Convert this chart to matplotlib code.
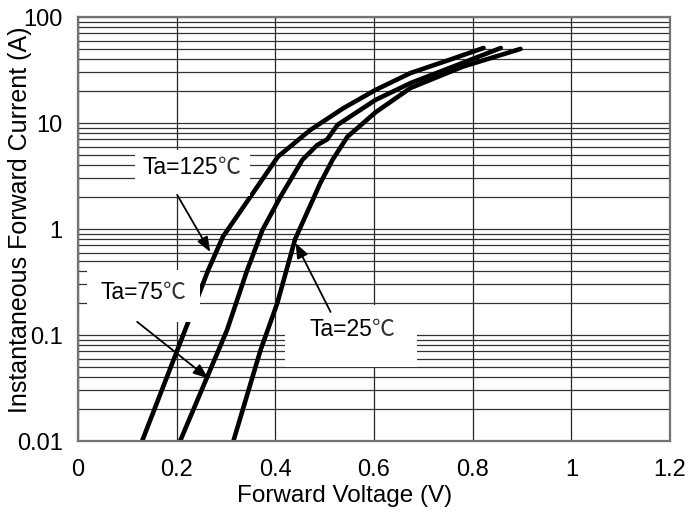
import matplotlib.pyplot as plt
import numpy as np
from matplotlib.patches import Rectangle
from matplotlib.ticker import FixedLocator, LogLocator, NullFormatter

# --- data (V, A) ---
v_125 = [0.130, 0.217, 0.264, 0.294, 0.349, 0.405, 0.471, 0.538, 0.603, 0.674, 0.750, 0.822]
i_125 = [0.010, 0.111, 0.41, 0.85, 2.0, 4.8, 8.6, 13.8, 20.5, 29.6, 39.0, 51.0]

v_75 = [0.207, 0.302, 0.343, 0.374, 0.410, 0.455, 0.485, 0.505, 0.526, 0.603, 0.674, 0.760, 0.857]
i_75 = [0.010, 0.111, 0.41, 0.98, 2.0, 4.5, 6.2, 7.0, 9.6, 16.5, 23.8, 34.0, 51.0]

v_25 = [0.315, 0.370, 0.404, 0.440, 0.457, 0.491, 0.516, 0.546, 0.603, 0.674, 0.780, 0.897]
i_25 = [0.010, 0.072, 0.20, 0.80, 1.2, 2.7, 4.5, 7.4, 12.6, 21.4, 34.0, 50.0]

temps = ["Ta=125", "Ta=75", "Ta=25"]

x_ticks = [0, 0.2, 0.4, 0.6, 0.8, 1.0, 1.2]
x_labels = ["0", "0.2", "0.4", "0.6", "0.8", "1", "1.2"]
y_ticks = [0.01, 0.1, 1, 10, 100]
y_labels = ["0.01", "0.1", "1", "10", "100"]

FONT = ['Liberation Sans', 'Noto Sans CJK JP', 'DejaVu Sans']
plt.rcParams['font.family'] = FONT

fig = plt.figure(figsize=(6.88, 5.2), dpi=100)
ax = fig.add_axes([78/688, 1 - 441/520, 592/688, 424/520])

ax.set_yscale('log')
ax.set_xlim(0, 1.2)
ax.set_ylim(0.01, 100)

# grid
ax.xaxis.set_major_locator(FixedLocator(x_ticks))
ax.set_xticklabels(x_labels)
ax.yaxis.set_major_locator(FixedLocator(y_ticks))
ax.set_yticklabels(y_labels)
ax.yaxis.set_minor_locator(LogLocator(base=10, subs=np.arange(2, 10)))
ax.yaxis.set_minor_formatter(NullFormatter())
ax.grid(True, which='major', axis='x', color='0.15', lw=0.9, zorder=0)
ax.grid(True, which='both', axis='y', color='0.2', lw=0.9, zorder=0)
ax.set_axisbelow(True)

for sp in ax.spines.values():
    sp.set_color('0.45')
    sp.set_linewidth(1.6)

ax.tick_params(which='both', length=0, labelsize=17)
ax.tick_params(axis='y', pad=11)
ax.tick_params(axis='x', pad=13)

# curves
for v, i in [(v_125, i_125), (v_75, i_75), (v_25, i_25)]:
    ax.plot(v, i, color='black', lw=3.3, solid_capstyle='round', zorder=2)

# white label boxes (axes fraction), they hide grid and curves
boxes = [(0.096, 0.578, 0.195, 0.108),
         (0.015, 0.281, 0.191, 0.122),
         (0.350, 0.175, 0.223, 0.146)]
for bx, by, bw, bh in boxes:
    ax.add_patch(Rectangle((bx, by), bw, bh, transform=ax.transAxes,
                           facecolor='white', edgecolor='none', zorder=3))

# labels: "Ta=xx" in Arial-like font, the degree sign from a CJK font (thin, full width)
label_pos = [(0.2365, 0.644), (0.1436, 0.351), (0.4966, 0.262)]
for txt, (lx, ly) in zip(temps, label_pos):
    ax.text(lx, ly, txt, transform=ax.transAxes, ha='right', va='center',
            fontsize=16.5, zorder=5)
    ax.text(lx, ly, "℃", transform=ax.transAxes, ha='left', va='center',
            fontsize=16.5, color='0.2', family=['Noto Sans CJK JP', 'DejaVu Sans'], zorder=5)

arrow_kw = dict(arrowstyle='-|>,head_length=0.9,head_width=0.35', color='black', lw=1.3,
                shrinkA=0, shrinkB=0)
ax.annotate("", xy=(0.268, 0.607), xytext=(0.201, 2.1), arrowprops=arrow_kw, zorder=4)
ax.annotate("", xy=(0.264, 0.039), xytext=(0.120, 0.133), arrowprops=arrow_kw, zorder=4)
ax.annotate("", xy=(0.441, 0.738), xytext=(0.512, 0.165), arrowprops=arrow_kw, zorder=4)

ax.set_xlabel("Forward Voltage (V)", fontsize=17.5)
ax.set_ylabel("Instantaneous Forward Current (A)", fontsize=18)
ax.xaxis.set_label_coords(0.451, -0.104)
ax.yaxis.set_label_coords(-0.078, 0.521)

fig.savefig("out.png", dpi=100)
